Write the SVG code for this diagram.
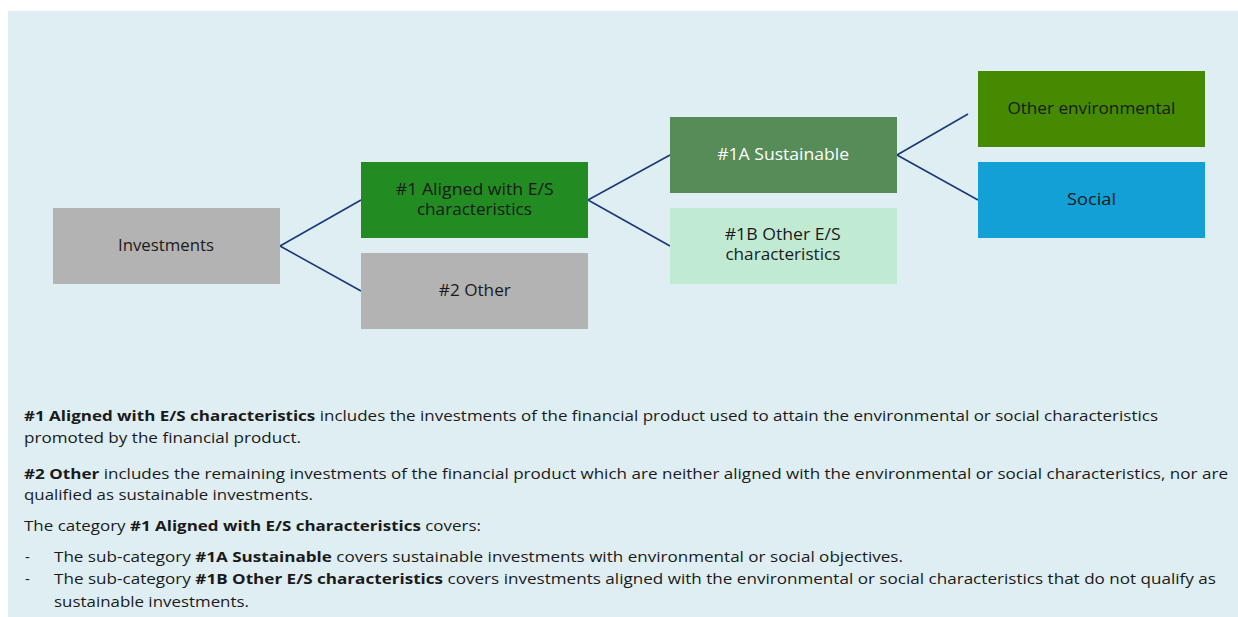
<svg xmlns="http://www.w3.org/2000/svg" width="1238" height="617" viewBox="0 0 1238 617">
<style>
.lbl{font-family:"Open Sans","Liberation Sans",Arial,sans-serif;font-size:16px;fill:#1a1a1a;text-anchor:middle}
.body{font-family:"Open Sans","Liberation Sans",Arial,sans-serif;font-size:15px;fill:#1a1a1a}
.b{font-weight:bold}
.conn{stroke:#173a78;stroke-width:1.6;fill:none}
</style>
<rect x="0" y="0" width="1238" height="617" fill="#ffffff"/>
<rect x="8" y="11" width="1230" height="606" fill="#dfeef2"/>
<g id="connectors">
<path class="conn" d="M280,246 L361,200 M280,246 L361,291"/>
<path class="conn" d="M588,200 L670,155 M588,200 L670,246"/>
<path class="conn" d="M897,155 L968,114 M897,155 L978,200"/>
</g>
<g id="investments"><rect x="53" y="208" width="227" height="76" fill="#b3b3b3"/><text class="lbl" x="166" y="251" textLength="96" lengthAdjust="spacingAndGlyphs">Investments</text></g>
<g id="aligned"><rect x="361" y="162" width="227" height="76" fill="#228b22"/><text class="lbl" x="474.8" y="195" textLength="158" lengthAdjust="spacingAndGlyphs">#1 Aligned with E/S</text><text class="lbl" x="474.4" y="215" textLength="115" lengthAdjust="spacingAndGlyphs">characteristics</text></g>
<g id="other"><rect x="361" y="253" width="227" height="76" fill="#b3b3b3"/><text class="lbl" x="474.8" y="296" textLength="72" lengthAdjust="spacingAndGlyphs">#2 Other</text></g>
<g id="sustainable"><rect x="670" y="117" width="227" height="76" fill="#568c57"/><text class="lbl" x="783.2" y="160" style="fill:#ffffff" textLength="132" lengthAdjust="spacingAndGlyphs">#1A Sustainable</text></g>
<g id="other-es"><rect x="670" y="208" width="227" height="76" fill="#c0ead2"/><text class="lbl" x="782.7" y="240" textLength="116" lengthAdjust="spacingAndGlyphs">#1B Other E/S</text><text class="lbl" x="782.9" y="260" textLength="115" lengthAdjust="spacingAndGlyphs">characteristics</text></g>
<g id="other-env"><rect x="978" y="71" width="227" height="76" fill="#458a00"/><text class="lbl" x="1091.4" y="114" textLength="168" lengthAdjust="spacingAndGlyphs">Other environmental</text></g>
<g id="social"><rect x="978" y="162" width="227" height="76" fill="#12a0d6"/><text class="lbl" x="1091.5" y="205" textLength="49" lengthAdjust="spacingAndGlyphs">Social</text></g>
<g id="notes">
<text class="body" x="24" y="421" textLength="1134" lengthAdjust="spacingAndGlyphs"><tspan class="b">#1 Aligned with E/S characteristics</tspan> includes the investments of the financial product used to attain the environmental or social characteristics</text>
<text class="body" x="24" y="443" textLength="277" lengthAdjust="spacingAndGlyphs">promoted by the financial product.</text>
<text class="body" x="24" y="479" textLength="1204" lengthAdjust="spacingAndGlyphs"><tspan class="b">#2 Other</tspan> includes the remaining investments of the financial product which are neither aligned with the environmental or social characteristics, nor are</text>
<text class="body" x="24" y="500" textLength="289" lengthAdjust="spacingAndGlyphs">qualified as sustainable investments.</text>
<text class="body" x="24" y="531" textLength="457" lengthAdjust="spacingAndGlyphs">The category <tspan class="b">#1 Aligned with E/S characteristics</tspan> covers:</text>
<text class="body" x="25" y="562">-</text>
<text class="body" x="54" y="562" textLength="849" lengthAdjust="spacingAndGlyphs">The sub-category <tspan class="b">#1A Sustainable</tspan> covers sustainable investments with environmental or social objectives.</text>
<text class="body" x="25" y="584">-</text>
<text class="body" x="54" y="584" textLength="1162" lengthAdjust="spacingAndGlyphs">The sub-category <tspan class="b">#1B Other E/S characteristics</tspan> covers investments aligned with the environmental or social characteristics that do not qualify as</text>
<text class="body" x="54" y="607" textLength="195" lengthAdjust="spacingAndGlyphs">sustainable investments.</text>
</g>
</svg>
